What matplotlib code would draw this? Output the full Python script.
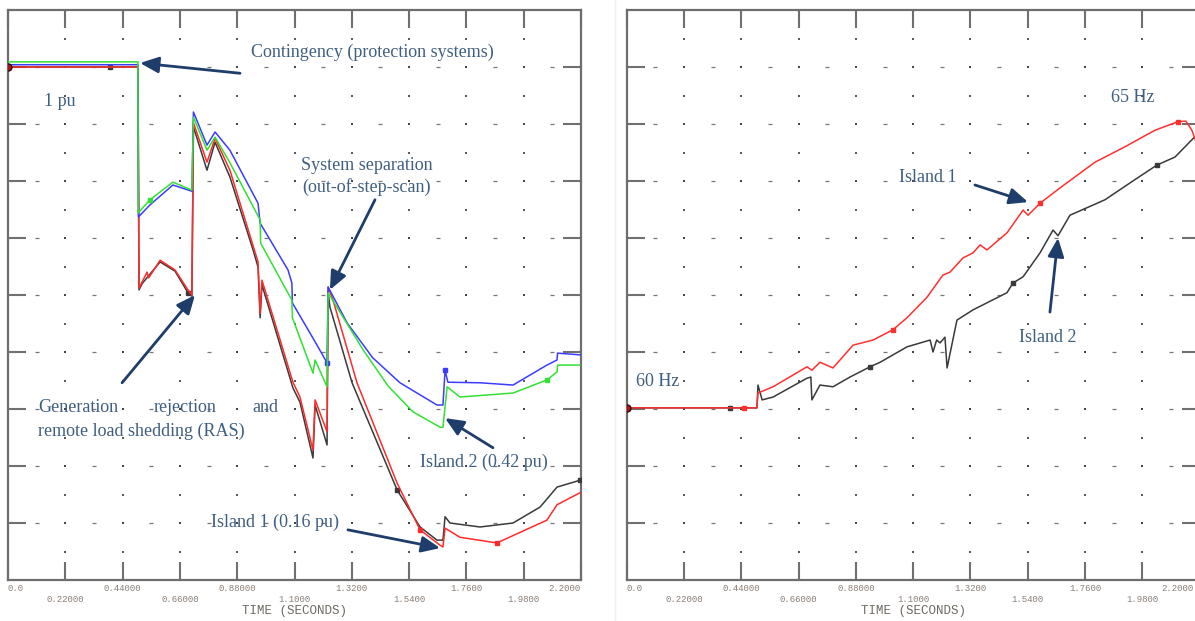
import numpy as np
import matplotlib.pyplot as plt
from matplotlib.lines import Line2D
from matplotlib.transforms import ScaledTranslation

# left panel: flows (grid units) vs time (s)
t_black = [0, 0.392, 0.499, 0.503, 0.515, 0.584, 0.641, 0.691, 0.706, 0.712, 0.764, 0.795,
           0.852, 0.941, 0.960, 0.968, 0.975, 1.094, 1.121, 1.171, 1.179, 1.225, 1.229, 1.236,
           1.321, 1.494, 1.582, 1.647, 1.670, 1.678, 1.697, 1.812, 1.939, 2.043, 2.108, 2.196]
v_black = [9.0, 9.0, 9.0, 5.09, 5.20, 5.58, 5.42, 5.04, 4.98, 7.95, 7.19, 7.68,
           7.07, 5.79, 5.49, 4.60, 5.18, 3.37, 3.12, 2.14, 3.07, 2.37, 5.05, 4.79,
           3.46, 1.58, 0.93, 0.70, 0.70, 1.11, 1.00, 0.93, 1.00, 1.28, 1.63, 1.75]

t_red = [0, 0.499, 0.503, 0.515, 0.534, 0.540, 0.584, 0.641, 0.691, 0.706, 0.712, 0.764,
         0.795, 0.852, 0.960, 0.968, 0.975, 1.094, 1.121, 1.171, 1.179, 1.225, 1.229, 1.248,
         1.340, 1.494, 1.582, 1.659, 1.670, 1.678, 1.735, 1.877, 2.069, 2.108, 2.196]
v_red = [9.0, 9.0, 5.12, 5.23, 5.40, 5.30, 5.61, 5.44, 5.09, 5.0, 8.02, 7.33,
         7.75, 7.19, 5.58, 4.68, 5.26, 3.47, 3.21, 2.28, 3.16, 2.60, 5.14, 4.91,
         3.46, 1.70, 0.88, 0.61, 0.58, 0.91, 0.75, 0.65, 1.05, 1.32, 1.53]

t_blue = [0, 0.499, 0.501, 0.545, 0.633, 0.706, 0.712, 0.764, 0.795, 0.852, 0.960, 0.968,
          1.075, 1.090, 1.092, 1.179, 1.225, 1.229, 1.302, 1.400, 1.505, 1.647, 1.670, 1.678,
          1.689, 1.812, 1.939, 2.069, 2.108, 2.110, 2.196]
v_blue = [9.04, 9.04, 6.37, 6.58, 6.93, 6.82, 8.21, 7.63, 7.86, 7.54, 6.61, 6.26,
          5.44, 5.21, 4.86, 4.18, 3.81, 5.14, 4.51, 3.90, 3.46, 3.07, 3.07, 3.68,
          3.47, 3.46, 3.42, 3.77, 3.86, 3.98, 3.95]

t_green = [0, 0.499, 0.500, 0.545, 0.633, 0.706, 0.712, 0.764, 0.795, 0.852, 0.968, 0.970,
           1.090, 1.092, 1.171, 1.179, 1.225, 1.229, 1.363, 1.460, 1.555, 1.659, 1.670, 1.686,
           1.735, 1.939, 2.069, 2.108, 2.110, 2.196]
v_green = [9.09, 9.09, 6.44, 6.67, 6.98, 6.84, 8.12, 7.54, 7.77, 7.32, 6.32, 5.91,
           4.91, 4.60, 3.63, 3.86, 3.39, 5.04, 4.04, 3.40, 2.95, 2.68, 2.68, 3.39,
           3.21, 3.28, 3.51, 3.65, 3.77, 3.77]

# right panel: island frequencies (Hz)
t_f_red = [0, 0.397, 0.45, 0.500, 0.504, 0.562, 0.692, 0.711, 0.742, 0.792, 0.869, 0.946,
           1.022, 1.076, 1.153, 1.214, 1.241, 1.291, 1.330, 1.357, 1.383, 1.460, 1.522, 1.541,
           1.587, 1.664, 1.798, 1.913, 2.028, 2.116, 2.147, 2.170, 2.185]
f_red = [60.02, 60.02, 60.02, 60.02, 60.28, 60.39, 60.74, 60.68, 60.82, 60.72, 61.12, 61.21,
         61.39, 61.60, 61.96, 62.35, 62.40, 62.65, 62.74, 62.88, 62.79, 63.09, 63.49, 63.40,
         63.61, 63.88, 64.33, 64.60, 64.89, 65.04, 65.05, 64.89, 64.70]

t_f_black = [0, 0.397, 0.500, 0.504, 0.520, 0.562, 0.692, 0.707, 0.711, 0.742, 0.792, 0.857,
             0.934, 0.973, 1.076, 1.165, 1.176, 1.190, 1.203, 1.222, 1.230, 1.268, 1.330, 1.460,
             1.483, 1.522, 1.587, 1.637, 1.656, 1.702, 1.836, 1.950, 2.036, 2.105, 2.180]
f_black = [60.02, 60.02, 60.02, 60.42, 60.16, 60.21, 60.54, 60.56, 60.16, 60.42, 60.39, 60.56,
           60.74, 60.82, 61.09, 61.21, 61.00, 61.21, 61.16, 61.26, 60.72, 61.56, 61.74, 62.04,
           62.21, 62.32, 62.74, 63.14, 63.04, 63.40, 63.67, 64.02, 64.28, 64.42, 64.77]

tick_values = [0.0, 0.22, 0.44, 0.66, 0.88, 1.10, 1.32, 1.54, 1.76, 1.98, 2.20]
tick_text = ["0.0", "0.22000", "0.44000", "0.66000", "0.88000", "1.1000",
             "1.3200", "1.5400", "1.7600", "1.9800", "2.2000"]

TEXT_C = "#3f5f80"
ARROW_C = "#1f3d6b"
SERIF = "Liberation Serif"
MONO = "Liberation Mono"


def setup_axes(ax, ylo, last_shift=0.0):
    yhi = ylo + 10
    ax.set_xlim(0, 2.2)
    ax.set_ylim(ylo, yhi)
    # dotted grid: dense on whole rows, sparse on half rows
    major = np.arange(1, 10) * 0.22
    half = np.arange(10) * 0.22 + 0.11
    for r in np.arange(ylo + 1, yhi):
        ax.plot(major, np.full(9, r), ls="none", marker="s", ms=2.0, mew=0, color="#444444", zorder=1)
        ax.plot(half, np.full(10, r), ls="none", marker="_", ms=3.5, mew=0.9, color="#777777", zorder=1)
    for r in np.arange(ylo + 0.5, yhi):
        ax.plot(major, np.full(9, r), ls="none", marker="s", ms=1.8, mew=0, color="#5a5a5a", zorder=1)

    ax.set_xticks(tick_values)
    labels = [s if i % 2 == 0 else "\n" + s for i, s in enumerate(tick_text)]
    ax.set_xticklabels(labels, fontfamily=MONO, fontsize=6.5, color="#8a7e76")
    ax.set_yticks(np.arange(ylo + 1, yhi))
    ax.set_yticklabels([])
    ax.tick_params(direction="in", length=13, width=1.5, color="#707070",
                   top=True, right=True, pad=3)
    lab = ax.get_xticklabels()
    lab[0].set_ha("left")
    lab[-1].set_ha("right")
    if last_shift:
        lab[-1].set_transform(lab[-1].get_transform()
                              + ScaledTranslation(last_shift / 100, 0, ax.figure.dpi_scale_trans))
    for sp in ax.spines.values():
        sp.set_color("#6e6e6e")
        sp.set_linewidth(1.6)
    ax.set_xlabel("TIME (SECONDS)", fontfamily=MONO, fontsize=9, color="#6e6862", labelpad=1)


def arrow(ax, tail, head):
    ax.annotate("", xy=head, xytext=tail,
                arrowprops=dict(arrowstyle="-|>,head_length=0.8,head_width=0.35",
                                color=ARROW_C, lw=2, shrinkA=0, shrinkB=0,
                                mutation_scale=14), zorder=5)


def label(ax, x, y, s, ha="center", **kw):
    ax.text(x, y, s, ha=ha, va="center", fontfamily=SERIF, fontsize=13,
            color=TEXT_C, zorder=6, **kw)


fig = plt.figure(figsize=(11.95, 6.21), dpi=100)
ax1 = fig.add_axes([8 / 1195, 41 / 621, 573 / 1195, 570 / 621])
ax2 = fig.add_axes([626.7 / 1195, 41 / 621, 573 / 1195, 570 / 621])
fig.add_artist(Line2D([615 / 1195] * 2, [0, 1], color="#efefef", lw=1))

# ---- left panel ----
setup_axes(ax1, 0)
lw = 1.1
ax1.plot(t_black, v_black, color="#3a3a3a", lw=lw, marker="s", ms=3,
         markevery=[1, 7, 25, 35], zorder=3)
ax1.plot(t_red, v_red, color="#ff2a2a", lw=lw, marker="s", ms=2.5,
         markevery=[26, 31], zorder=3)
ax1.plot(t_blue, v_blue, color="#3c3cff", lw=lw, marker="s", ms=2.5,
         markevery=[16, 23], zorder=3)
ax1.plot(t_green, v_green, color="#33e033", lw=lw, marker="s", ms=2.5,
         markevery=[3, 26], zorder=3)
ax1.plot(t_red[0], v_red[0], "o", color="#b01010", mec="#301010", ms=5, zorder=4)

label(ax1, 1.398, 9.25, "Contingency (protection systems)")
arrow(ax1, (0.891, 8.89), (0.507, 9.07))
label(ax1, 0.20, 8.40, "1 pu")
label(ax1, 1.378, 7.08, "System separation\n(out-of-step-scan)", linespacing=1.3)
arrow(ax1, (1.409, 6.67), (1.236, 5.09))
label(ax1, 0.115, 3.02, "Generation", ha="left")
label(ax1, 0.68, 3.02, "rejection")
label(ax1, 1.037, 3.02, "and", ha="right")
label(ax1, 0.115, 2.60, "remote load shedding (RAS)", ha="left")
arrow(ax1, (0.438, 3.46), (0.718, 5.0))
label(ax1, 1.828, 2.07, "Island 2 (0.42 pu)")
arrow(ax1, (1.862, 2.32), (1.678, 2.84))
label(ax1, 1.025, 1.02, "Island 1 (0.16 pu)")
arrow(ax1, (1.305, 0.88), (1.659, 0.56))

# ---- right panel ----
setup_axes(ax2, 57, last_shift=-6)
ax2.plot(t_f_black, f_black, color="#3a3a3a", lw=lw, marker="s", ms=3,
         markevery=[1, 12, 24, 32], zorder=3)
ax2.plot(t_f_red, f_red, color="#ff3030", lw=lw, marker="s", ms=2.5,
         markevery=[2, 12, 24, 29], zorder=3)
ax2.plot(t_f_red[0], f_red[0], "o", color="#b01010", mec="#301010", ms=5, zorder=4)

label(ax2, 1.944, 65.47, "65 Hz")
label(ax2, 1.157, 64.07, "Island 1")
arrow(ax2, (1.337, 63.93), (1.541, 63.63))
label(ax2, 1.617, 61.25, "Island 2")
arrow(ax2, (1.625, 61.70), (1.656, 63.0))
label(ax2, 0.12, 60.49, "60 Hz")

fig.savefig("out.png", dpi=100)
